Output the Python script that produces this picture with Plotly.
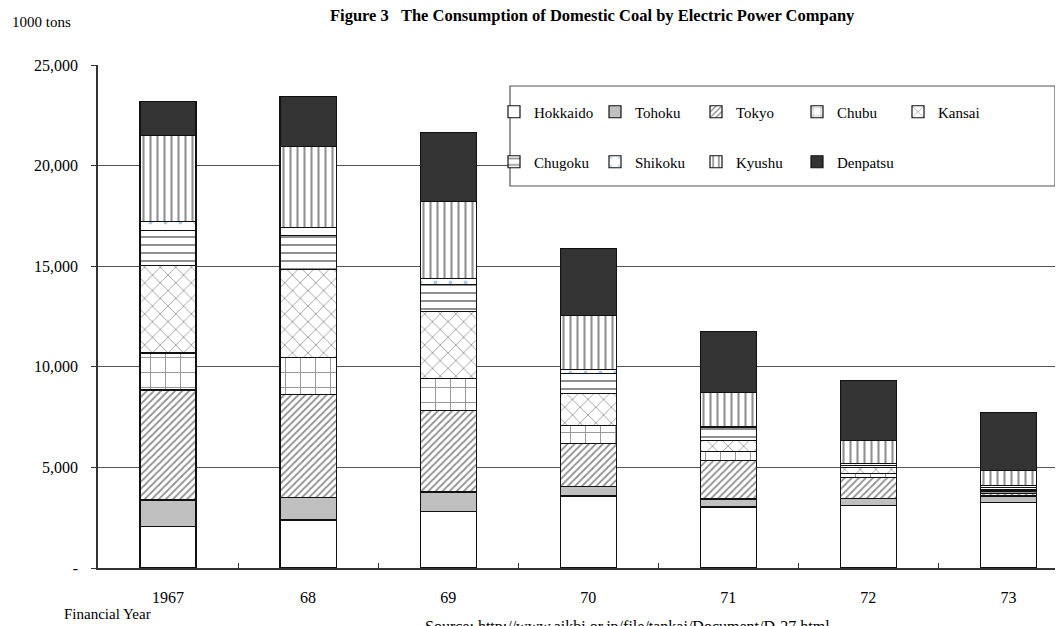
import plotly.graph_objects as go

years = ["1967", "68", "69", "70", "71", "72", "73"]
hokkaido = [2070, 2390, 2800, 3580, 3030, 3110, 3270]
tohoku = [1310, 1130, 980, 480, 400, 330, 310]
tokyo = [5470, 5090, 4060, 2120, 1910, 1060, 130]
chubu = [1840, 1860, 1560, 900, 460, 200, 120]
kansai = [4360, 4350, 3360, 1580, 520, 280, 90]
chugoku = [1740, 1690, 1330, 1010, 650, 120, 100]
shikoku = [430, 420, 300, 200, 80, 90, 70]
kyushu = [4260, 4030, 3810, 2690, 1690, 1160, 770]
denpatsu = [1710, 2470, 3460, 3330, 3020, 2980, 2880]

ytick_vals = [0, 5000, 10000, 15000, 20000, 25000]
ytick_text = ["-", "5,000", "10,000", "15,000", "20,000", "25,000"]

W, H = 1063, 626
OFF = 8  # page body margin shifts the figure by this many pixels
# targets in window pixels: plot area x 98..1063, y 65..568
L = 98 - OFF
T = 65 - OFF
R = W - (1063 - OFF)
B = H - (568 - OFF)
PW, PH = W - L - R, H - T - B


def px(x):
    return (x - OFF - L) / PW


def py(y):
    return (H - B - (y - OFF)) / PH


def cx(x):
    return (x - OFF) / W


def cy(y):
    return 1 - (y - OFF) / H


FONT = "Liberation Serif, Times New Roman, serif"

series = [
    ("Hokkaido", hokkaido, dict(color="white"), "legend"),
    ("Tohoku", tohoku, dict(color="#c0c0c0"), "legend"),
    ("Tokyo", tokyo, dict(color="white", pattern=dict(shape="/", fgcolor="#222", bgcolor="white", size=5, solidity=0.35)), "legend"),
    ("Chubu", chubu, dict(color="white", pattern=dict(shape="+", fgcolor="#222", bgcolor="white", size=15, solidity=0.12)), "legend"),
    ("Kansai", kansai, dict(color="white", pattern=dict(shape="x", fgcolor="#333", bgcolor="white", size=11, solidity=0.15)), "legend"),
    ("Chugoku", chugoku, dict(color="white", pattern=dict(shape="-", fgcolor="#222", bgcolor="white", size=8, solidity=0.25)), "legend2"),
    ("Shikoku", shikoku, dict(color="white", pattern=dict(shape=".", fgcolor="#5b8fd6", bgcolor="white", size=15, solidity=0.05)), "legend2"),
    ("Kyushu", kyushu, dict(color="white", pattern=dict(shape="|", fgcolor="#222", bgcolor="white", size=7, solidity=0.3)), "legend2"),
    ("Denpatsu", denpatsu, dict(color="#333333"), "legend2"),
]

fig = go.Figure()
for name, vals, marker, lg in series:
    m = dict(marker)
    m["line"] = dict(color="#111", width=1.2)
    fig.add_trace(go.Bar(x=years, y=vals, name=name, marker=m, legend=lg))

leg_common = dict(orientation="h", xref="container", yref="container",
                  xanchor="left", yanchor="middle",
                  entrywidth=56, entrywidthmode="pixels", itemwidth=30,
                  bgcolor="rgba(0,0,0,0)", font=dict(size=15), traceorder="normal")

fig.update_layout(
    width=W, height=H,
    margin=dict(l=L, r=R, t=T, b=B, autoexpand=False),
    paper_bgcolor="white", plot_bgcolor="white",
    barmode="stack", bargap=0.6,
    font=dict(family=FONT, size=16, color="black"),
    xaxis=dict(range=[-0.5, 6.39], showline=True, linecolor="#333", linewidth=1.5,
               ticks="inside", tickson="boundaries", ticklen=5, tickcolor="#333",
               ticklabelstandoff=14, showgrid=False, tickfont=dict(size=16)),
    yaxis=dict(range=[0, 25000], tickvals=ytick_vals, ticktext=ytick_text,
               showline=True, linecolor="#333", linewidth=1.5,
               ticks="outside", ticklen=5, tickcolor="#333",
               showgrid=True, gridcolor="#555", gridwidth=1,
               ticklabelstandoff=10, zeroline=False, tickfont=dict(size=16)),
    legend=dict(leg_common, x=cx(494), y=cy(112)),
    legend2=dict(leg_common, x=cx(494), y=cy(162)),
    showlegend=True,
)

fig.add_shape(type="rect", xref="paper", yref="paper",
              x0=px(510), x1=px(1055), y0=py(186), y1=py(86),
              fillcolor="white", line=dict(color="#555", width=1.2), layer="above")

fig.add_annotation(text="<b>Figure 3   The Consumption of Domestic Coal by Electric Power Company</b>",
                   xref="paper", yref="paper", x=px(592), y=py(16),
                   xanchor="center", yanchor="middle", showarrow=False,
                   font=dict(size=16.5))
fig.add_annotation(text="1000 tons", xref="paper", yref="paper", x=px(10), y=py(22),
                   xanchor="left", yanchor="middle", showarrow=False, font=dict(size=15))
fig.add_annotation(text="Financial Year", xref="paper", yref="paper", x=px(62), y=py(614),
                   xanchor="left", yanchor="middle", showarrow=False, font=dict(size=15))
fig.add_annotation(text="Source: http://www.aikbi.or.jp/file/tankai/Document/D-27.html",
                   xref="paper", yref="paper", x=px(423), y=py(627),
                   xanchor="left", yanchor="middle", showarrow=False, font=dict(size=16))

fig.write_html("out.html")
